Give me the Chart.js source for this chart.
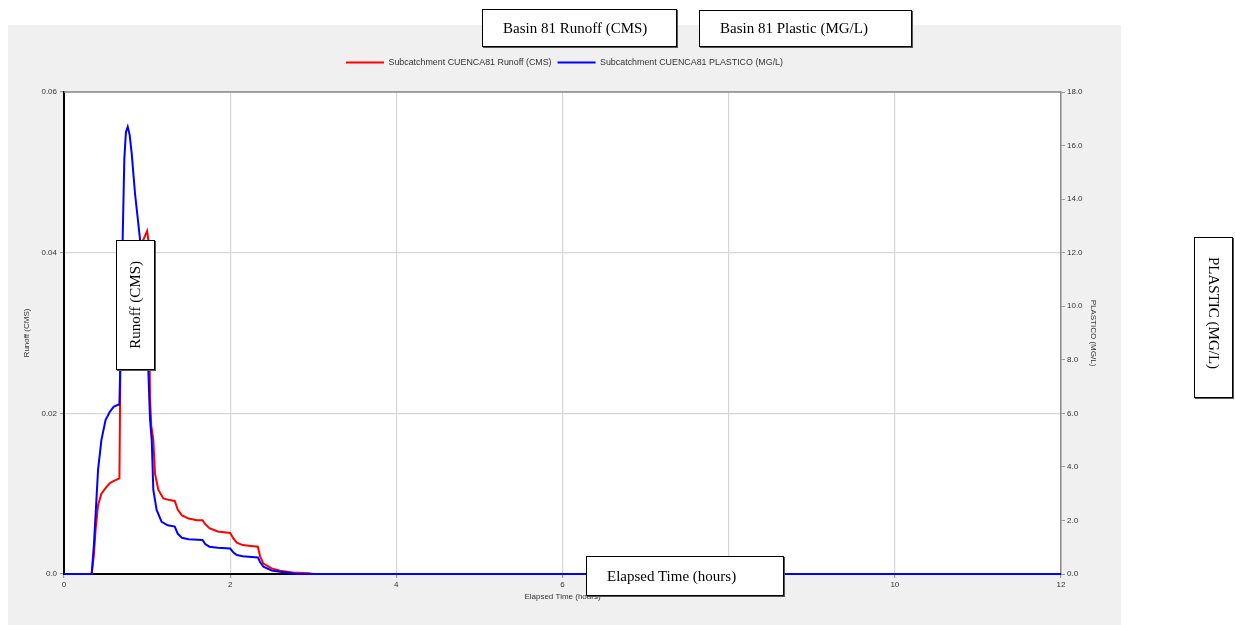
<!DOCTYPE html>
<html>
<head>
<meta charset="utf-8">
<title>Basin 81 Runoff and Plastic</title>
<script src="https://cdn.jsdelivr.net/npm/chart.js@4/dist/chart.umd.min.js"></script>
<style>
  html, body { margin: 0; padding: 0; background: #ffffff; }
  #wrap { position: relative; width: 1235px; height: 625px; overflow: hidden; }
  #panel { position: absolute; left: 8px; top: 25px; width: 1113px; height: 600px; background: #f0f0f0; }
  #c { position: absolute; left: 0; top: 0; }
  .note {
    position: absolute; box-sizing: border-box; background: #ffffff;
    border: 1px solid #000; box-shadow: 1px 1px 0 #555;
    font-family: "Liberation Serif", "Times New Roman", serif; font-size: 15px;
    color: #000; white-space: nowrap; display: flex; z-index: 2;
  }
  .h { align-items: center; padding-left: 20px; }
  .up { align-items: center; justify-content: center; }
  .up span { writing-mode: vertical-rl; transform: rotate(180deg); }
  .down { justify-content: center; padding-top: 19px; }
  .down span { writing-mode: vertical-rl; }
</style>
</head>
<body>
<div id="wrap">
  <div id="panel"></div>
  <canvas id="c" width="1235" height="625"></canvas>
  <div class="note h" style="left:482px;top:9px;width:195px;height:38px;">Basin 81 Runoff (CMS)</div>
  <div class="note h" style="left:699px;top:10px;width:213px;height:37px;">Basin 81 Plastic (MG/L)</div>
  <div class="note up" style="left:116px;top:240px;width:39px;height:130px;"><span>Runoff (CMS)</span></div>
  <div class="note down" style="left:1194px;top:237px;width:39px;height:161px;"><span>PLASTIC (MG/L)</span></div>
  <div class="note h" style="left:586px;top:556px;width:198px;height:40px;">Elapsed Time (hours)</div>
</div>
<script>
// Subcatchment CUENCA81 simulation results (elapsed time in hours)
const runoffTime = [0, 0.333, 0.36, 0.38, 0.41, 0.45, 0.50, 0.55, 0.60, 0.667,
  0.68, 0.70, 0.75, 0.833, 0.90, 0.955, 1.0, 1.015, 1.035, 1.05,
  1.075, 1.095, 1.135, 1.195, 1.27, 1.333, 1.37, 1.42, 1.50, 1.60,
  1.667, 1.70, 1.75, 1.85, 2.0, 2.04, 2.08, 2.15, 2.25, 2.333,
  2.36, 2.40, 2.50, 2.60, 2.75, 2.95, 3.0, 12];
const runoffCms = [0, 0, 0.0024, 0.0055, 0.0086, 0.0100, 0.0107, 0.0113, 0.0116, 0.0119,
  0.028, 0.031, 0.035, 0.038, 0.0405, 0.0416, 0.0427, 0.0416, 0.022, 0.0185,
  0.0167, 0.0125, 0.0105, 0.0094, 0.0092, 0.0091, 0.0080, 0.0073, 0.0069, 0.0067,
  0.0067, 0.0062, 0.0057, 0.0053, 0.0051, 0.0044, 0.0039, 0.0036, 0.0035, 0.0034,
  0.0022, 0.0013, 0.0007, 0.0004, 0.0002, 0.0001, 0, 0];

const plasticTime = [0, 0.333, 0.36, 0.38, 0.41, 0.45, 0.50, 0.55, 0.60, 0.667,
  0.685, 0.706, 0.726, 0.745, 0.767, 0.79, 0.815, 0.855, 0.915, 0.96,
  1.0, 1.015, 1.035, 1.056, 1.075, 1.115, 1.175, 1.25, 1.333, 1.37,
  1.42, 1.50, 1.667, 1.70, 1.75, 1.85, 2.0, 2.04, 2.08, 2.15,
  2.333, 2.36, 2.40, 2.50, 2.60, 2.70, 2.80, 12];
const plasticMgl = [0, 0, 1.1, 2.2, 3.9, 5.0, 5.75, 6.05, 6.25, 6.34,
  9.0, 12.5, 15.5, 16.5, 16.7, 16.4, 15.7, 14.2, 12.5, 11.5,
  10.5, 7.6, 5.8, 5.0, 3.14, 2.39, 1.95, 1.82, 1.77, 1.5,
  1.35, 1.30, 1.27, 1.12, 1.02, 0.98, 0.95, 0.80, 0.71, 0.66,
  0.62, 0.45, 0.27, 0.13, 0.08, 0.05, 0, 0];

// Axis ticks and their printed labels
const timeTicks = [0, 2, 4, 6, 8, 10, 12];
const runoffTicks = [0, 0.02, 0.04, 0.06];
const runoffTickLabels = ['0.0', '0.02', '0.04', '0.06'];
const plasticTicks = [0, 2, 4, 6, 8, 10, 12, 14, 16, 18];
const plasticTickLabels = ['0.0', '2.0', '4.0', '6.0', '8.0', '10.0', '12.0', '14.0', '16.0', '18.0'];

const seriesNames = ['Subcatchment CUENCA81 Runoff (CMS)', 'Subcatchment CUENCA81 PLASTICO (MG/L)'];

const toPoints = (xs, ys) => xs.map((x, i) => ({ x: x, y: ys[i] }));
const fontFamily = '"Liberation Sans", Arial, sans-serif';
const tickFont = { family: fontFamily, size: 8 };

// White plot area and grey frame line along the top
const plotFrame = {
  id: 'plotFrame',
  beforeInit(chart) {
    const fit = chart.legend.fit;
    chart.legend.fit = function () {
      fit.call(this);
      this.height = 40;
    };
  },
  beforeDraw(chart) {
    const a = chart.chartArea, ctx = chart.ctx;
    ctx.save();
    ctx.fillStyle = '#ffffff';
    ctx.fillRect(a.left, a.top, a.right - a.left, a.bottom - a.top);
    ctx.restore();
  },
  beforeDatasetsDraw(chart) {
    const a = chart.chartArea, ctx = chart.ctx;
    ctx.save();
    ctx.strokeStyle = '#8a8a8a';
    ctx.lineWidth = 1.5;
    ctx.beginPath();
    ctx.moveTo(a.left, a.top);
    ctx.lineTo(a.right, a.top);
    ctx.stroke();
    ctx.restore();
  }
};

new Chart(document.getElementById('c'), {
  type: 'line',
  data: {
    datasets: [
      {
        label: seriesNames[0],
        data: toPoints(runoffTime, runoffCms),
        yAxisID: 'y',
        borderColor: '#ff0000',
        backgroundColor: '#ff0000',
        borderWidth: 2,
        pointRadius: 0,
        tension: 0,
        clip: 3,
        order: 1
      },
      {
        label: seriesNames[1],
        data: toPoints(plasticTime, plasticMgl),
        yAxisID: 'y1',
        borderColor: '#0000ff',
        backgroundColor: '#0000ff',
        borderWidth: 2,
        pointRadius: 0,
        tension: 0,
        clip: 3,
        order: 0
      }
    ]
  },
  options: {
    responsive: false,
    animation: false,
    events: [],
    layout: { padding: { left: 8, right: 114, top: 52, bottom: 0 } },
    plugins: {
      tooltip: { enabled: false },
      legend: {
        position: 'top',
        align: 'center',
        labels: {
          usePointStyle: true,
          pointStyle: 'line',
          pointStyleWidth: 38,
          boxWidth: 38,
          padding: 6,
          color: '#333333',
          font: { family: fontFamily, size: 8.9 },
          sort: (a, b) => a.datasetIndex - b.datasetIndex
        }
      }
    },
    scales: {
      x: {
        type: 'linear',
        position: 'bottom',
        min: 0,
        max: 12,
        afterBuildTicks: s => { s.ticks = timeTicks.map(v => ({ value: v })); },
        afterFit: s => { s.height = 51; },
        ticks: { font: tickFont, color: '#333333', padding: 2, maxRotation: 0, callback: v => String(v) },
        grid: { color: '#d6d6d6', tickColor: '#9a9a9a', tickLength: 4, lineWidth: 1.2 },
        border: { color: '#000000', width: 2 },
        title: { display: true, text: 'Elapsed Time (hours)', color: '#333333',
                 font: { family: fontFamily, size: 8 }, padding: { top: 0, bottom: 23 } }
      },
      y: {
        type: 'linear',
        position: 'left',
        min: 0,
        max: 0.06,
        afterBuildTicks: s => { s.ticks = runoffTicks.map(v => ({ value: v })); },
        afterFit: s => { s.width = 56; },
        ticks: { font: tickFont, color: '#333333', padding: 3, callback: (v, i) => runoffTickLabels[i] },
        grid: { color: '#d6d6d6', tickColor: '#9a9a9a', tickLength: 4, lineWidth: 1.2 },
        border: { color: '#000000', width: 2 },
        title: { display: true, text: 'Runoff (CMS)', color: '#333333',
                 font: { family: fontFamily, size: 8 }, padding: { top: 14, bottom: 0 } }
      },
      y1: {
        type: 'linear',
        position: 'right',
        min: 0,
        max: 18,
        afterBuildTicks: s => { s.ticks = plasticTicks.map(v => ({ value: v })); },
        afterFit: s => { s.width = 60; },
        ticks: { font: tickFont, color: '#333333', padding: 2, callback: (v, i) => plasticTickLabels[i] },
        grid: { drawOnChartArea: false, color: '#9a9a9a', tickColor: '#9a9a9a', tickLength: 4 },
        border: { color: '#8a8a8a', width: 1.5 },
        title: { display: true, text: 'PLASTICO (MG/L)', color: '#333333',
                 font: { family: fontFamily, size: 8 }, padding: { top: 23, bottom: 0 } }
      }
    }
  },
  plugins: [plotFrame]
});
</script>
</body>
</html>
